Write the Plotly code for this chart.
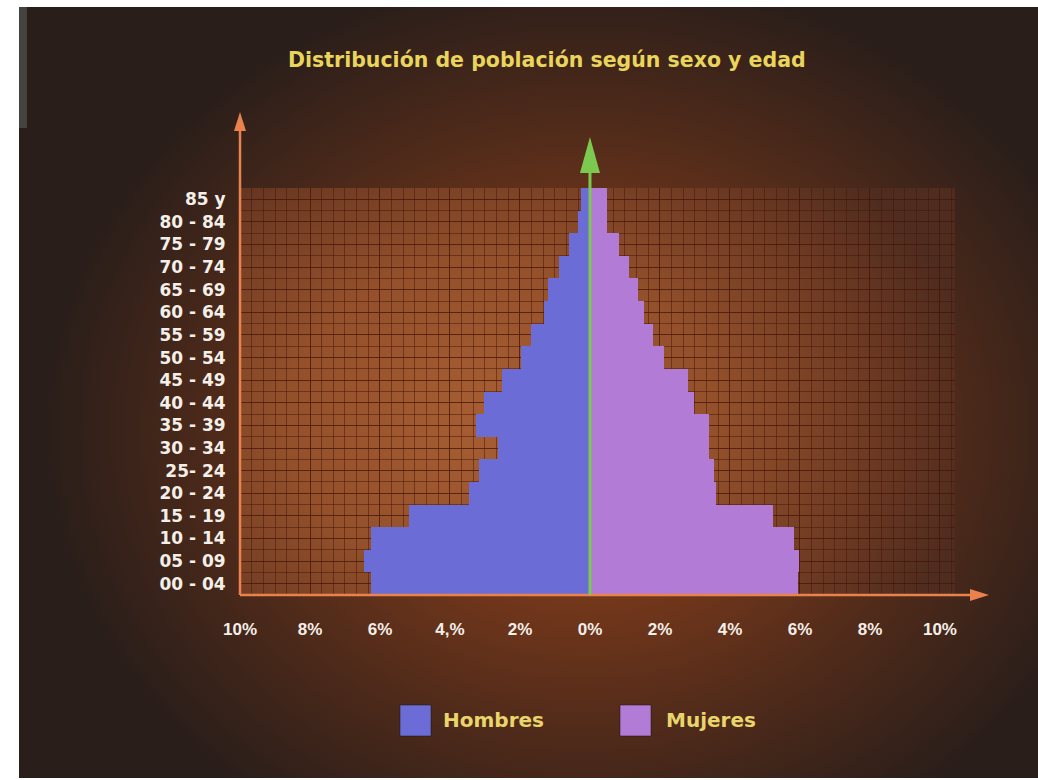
import base64
import plotly.graph_objects as go

# ---------------- data ----------------
age_groups = ["00 - 04", "05 - 09", "10 - 14", "15 - 19", "20 - 24", "25- 24",
              "30 - 34", "35 - 39", "40 - 44", "45 - 49", "50 - 54", "55 - 59",
              "60 - 64", "65 - 69", "70 - 74", "75 - 79", "80 - 84", "85 y"]
hombres = [6.25, 6.45, 6.25, 5.16, 3.45, 3.17, 2.62, 3.25, 3.02, 2.51,
           1.97, 1.68, 1.31, 1.20, 0.88, 0.60, 0.34, 0.26]
mujeres = [5.93, 5.96, 5.82, 5.22, 3.59, 3.54, 3.40, 3.40, 2.97, 2.80,
           2.11, 1.80, 1.54, 1.37, 1.11, 0.83, 0.49, 0.49]
x_tickvals = [-10, -8, -6, -4, -2, 0, 2, 4, 6, 8, 10]
x_ticktext = ["10%", "8%", "6%", "4,%", "2%", "0%", "2%", "4%", "6%", "8%", "10%"]
series_names = ["Hombres", "Mujeres"]
series_colors = ["#6c6cd6", "#b17bd6"]
title_text = "Distribución de población según sexo y edad"

# ---------------- layout geometry ----------------
W, H = 1038, 780
L, R, T, B = 240, 83, 188, 185
PW, PH = W - L - R, H - T - B
X_RANGE = [-10, 10.43]
Y_RANGE = [-0.5, len(age_groups) - 0.5]


def px_x(px):
    return (px - L) / PW


def px_y(py):
    return (H - B - py) / PH


def data_to_paper_x(v):
    return (v - X_RANGE[0]) / (X_RANGE[1] - X_RANGE[0])


# background (radial glow + lighter panel behind the grid) as an svg image
svg = f'''<svg xmlns="http://www.w3.org/2000/svg" width="{W}" height="{H}" viewBox="0 0 {W} {H}">
<defs>
<radialGradient id="g" gradientUnits="userSpaceOnUse" cx="585" cy="430" r="540"
 gradientTransform="translate(585 430) scale(1 0.85) translate(-585 -430)">
<stop offset="0" stop-color="#8c4722"/>
<stop offset="0.35" stop-color="#76381b"/>
<stop offset="0.68" stop-color="#4e2a1a"/>
<stop offset="1" stop-color="#2a1e1a"/>
</radialGradient>
<radialGradient id="p" gradientUnits="userSpaceOnUse" cx="500" cy="420" r="480"
 gradientTransform="translate(500 420) scale(1 0.75) translate(-500 -420)">
<stop offset="0" stop-color="#a85e33"/>
<stop offset="0.45" stop-color="#93502b"/>
<stop offset="0.8" stop-color="#6a3822"/>
<stop offset="1" stop-color="#4e2c1f"/>
</radialGradient>
</defs>
<rect x="0" y="0" width="{W}" height="{H}" fill="#ffffff"/>
<rect x="19" y="7" width="{W-19}" height="{H-9}" fill="url(#g)"/>
<rect x="19" y="7" width="8" height="121" fill="#45433f"/>
<rect x="{L}" y="{T}" width="{PW}" height="{PH}" fill="url(#p)"/>
</svg>'''
svg_uri = "data:image/svg+xml;base64," + base64.b64encode(svg.encode("utf-8")).decode()

ypos = list(range(len(age_groups)))

fig = go.Figure()
fig.add_trace(go.Bar(
    y=ypos, x=[-v for v in hombres], orientation="h", name=series_names[0],
    marker=dict(color=series_colors[0], line=dict(width=0)), width=1,
    customdata=[[a, v] for a, v in zip(age_groups, hombres)],
    hovertemplate="%{customdata[0]}: %{customdata[1]}%<extra>Hombres</extra>",
))
fig.add_trace(go.Bar(
    y=ypos, x=mujeres, orientation="h", name=series_names[1],
    marker=dict(color=series_colors[1], line=dict(width=0)), width=1,
    customdata=[[a, v] for a, v in zip(age_groups, mujeres)],
    hovertemplate="%{customdata[0]}: %{customdata[1]}%<extra>Mujeres</extra>",
))

grid_col = "rgba(70,20,6,0.5)"
fig.update_layout(
    width=W, height=H,
    margin=dict(l=L, r=R, t=T, b=B, pad=0),
    paper_bgcolor="#ffffff",
    plot_bgcolor="rgba(0,0,0,0)",
    barmode="overlay", bargap=0,
    showlegend=False,
    images=[dict(source=svg_uri, xref="paper", yref="paper",
                 x=-L / PW, y=1 + T / PH, sizex=W / PW, sizey=H / PH,
                 xanchor="left", yanchor="top", sizing="stretch", layer="below")],
    xaxis=dict(range=X_RANGE, tickmode="array", tickvals=x_tickvals, ticktext=x_ticktext,
               showgrid=True, gridcolor=grid_col, gridwidth=1, zeroline=False,
               minor=dict(dtick=1 / 3, tick0=0, showgrid=True, gridcolor=grid_col, gridwidth=1),
               ticks="outside", ticklen=19, tickcolor="rgba(0,0,0,0)",
               tickfont=dict(family="Liberation Sans", size=17, color="#f4efe8", weight="bold"),
               showline=False, fixedrange=True),
    yaxis=dict(range=Y_RANGE, tickmode="array", tickvals=ypos, ticktext=age_groups,
               showgrid=True, gridcolor=grid_col, gridwidth=1, zeroline=False,
               minor=dict(dtick=0.5, tick0=-0.5, showgrid=True, gridcolor=grid_col, gridwidth=1),
               ticks="outside", ticklen=10, tickcolor="rgba(0,0,0,0)",
               tickfont=dict(family="DejaVu Sans", size=17, color="#f4efe8", weight="bold"),
               showline=False, fixedrange=True),
    font=dict(family="DejaVu Sans"),
)

shapes = []
orange = "#e9824c"
green = "#7cc94f"
# vertical orange axis with arrow
x0p = data_to_paper_x(-10)
shapes.append(dict(type="line", xref="paper", yref="paper", x0=x0p, x1=x0p,
                   y0=0, y1=px_y(128), line=dict(color=orange, width=2.5), layer="above"))
shapes.append(dict(type="path", xref="paper", yref="paper",
                   path=f"M {x0p - 6/PW} {px_y(131)} L {x0p + 6/PW} {px_y(131)} L {x0p} {px_y(112)} Z",
                   fillcolor=orange, line=dict(width=0), layer="above"))
# horizontal orange axis with arrow
shapes.append(dict(type="line", xref="paper", yref="paper", x0=x0p, x1=px_x(972),
                   y0=0, y1=0, line=dict(color=orange, width=2.5), layer="above"))
shapes.append(dict(type="path", xref="paper", yref="paper",
                   path=f"M {px_x(970)} {px_y(589)} L {px_x(970)} {px_y(601)} L {px_x(989)} {px_y(595)} Z",
                   fillcolor=orange, line=dict(width=0), layer="above"))
# green centre line with arrow
xc = data_to_paper_x(0)
shapes.append(dict(type="line", xref="paper", yref="paper", x0=xc, x1=xc,
                   y0=0, y1=px_y(170), line=dict(color=green, width=3), layer="above"))
shapes.append(dict(type="path", xref="paper", yref="paper",
                   path=f"M {xc - 10/PW} {px_y(173)} L {xc + 10/PW} {px_y(173)} L {xc} {px_y(137)} Z",
                   fillcolor=green, line=dict(width=0), layer="above"))

# custom legend squares
legend_specs = [(400, 441), (620, 664)]
annotations = []
for (sx, tx), name, col in zip(legend_specs, series_names, series_colors):
    shapes.append(dict(type="rect", xref="paper", yref="paper",
                       x0=px_x(sx), x1=px_x(sx + 31), y0=px_y(736), y1=px_y(705),
                       fillcolor=col, line=dict(color="rgba(30,15,10,0.5)", width=1), layer="above"))
    annotations.append(dict(xref="paper", yref="paper", x=px_x(tx), y=px_y(720),
                            text=name, showarrow=False, xanchor="left", yanchor="middle",
                            font=dict(family="DejaVu Sans", size=20, color="#e9d56a", weight="bold")))

annotations.append(dict(xref="paper", yref="paper", x=px_x(547), y=px_y(60),
                        text=title_text, showarrow=False, xanchor="center", yanchor="middle",
                        font=dict(family="DejaVu Sans", size=20.5, color="#e9d45c", weight="bold")))

fig.update_layout(shapes=shapes, annotations=annotations)
fig.write_html("out.html", config={"displayModeBar": False},
               post_script="document.body.style.margin='0';document.body.style.padding='0';")
